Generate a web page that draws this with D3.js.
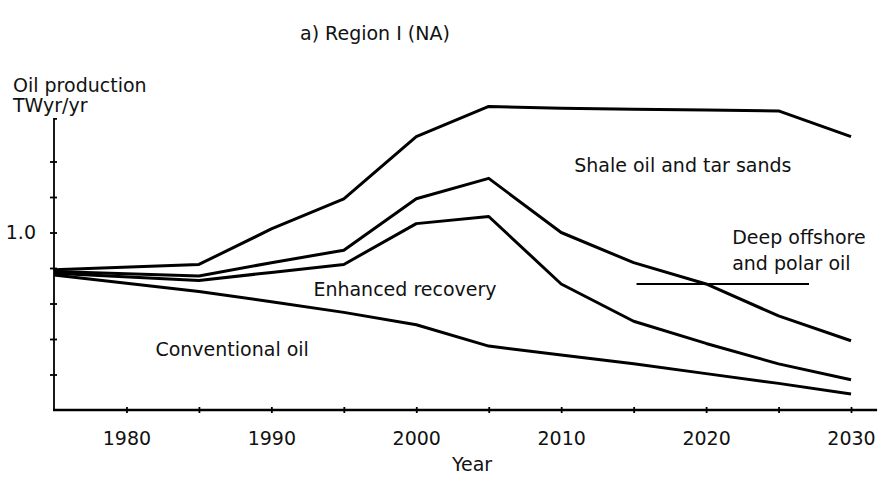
<!DOCTYPE html>
<html>
  <head>
    <meta charset="utf-8" />
    <script src="https://d3js.org/d3.v7.min.js"></script>
    <style>
      body { margin: 0; background: #fff; }
      text { font-family: "DejaVu Sans", sans-serif; fill: #111; }
      .series { fill: none; stroke: #000; stroke-width: 3px; stroke-linejoin: round; }
    </style>
  </head>
  <body>
    <svg id="chart" width="892" height="490"></svg>

    <script>
      var svg = d3.select("#chart");

      // TWyr/yr per component (stacked bottom to top)
      var years        = [1975, 1985, 1990, 1995, 2000, 2005, 2010, 2015, 2020, 2025, 2030];
      var conventional = [0.76, 0.667, 0.61, 0.55, 0.48, 0.36, 0.31, 0.26, 0.205, 0.15, 0.09];
      var enhanced     = [0.01, 0.063, 0.165, 0.27, 0.57, 0.73, 0.40, 0.24, 0.17, 0.11, 0.08];
      var deepOffshore = [0.01, 0.025, 0.055, 0.08, 0.14, 0.215, 0.29, 0.33, 0.335, 0.27, 0.22];
      var shale        = [0.01, 0.065, 0.19, 0.29, 0.35, 0.405, 0.70, 0.865, 0.98, 1.155, 1.15];

      var xTicks = [1980, 1985, 1990, 1995, 2000, 2005, 2010, 2015, 2020, 2025, 2030];
      var yTicks = [0.2, 0.4, 0.6, 0.8, 1.0, 1.2, 1.4];

      // labels: text, year, value (left baseline)
      var labels = [
        ["Shale oil and tar sands", 2010.9, 1.34],
        ["Deep offshore", 2021.8, 0.935],
        ["and polar oil", 2021.8, 0.79],
        ["Enhanced recovery", 1992.9, 0.64],
        ["Conventional oil", 1982.0, 0.305]
      ];
      var leader = [[2015.2, 0.71], [2027.1, 0.71]];

      var fs = 19;
      var x = d3.scaleLinear().domain([1975, 2032]).range([54, 880]);
      var y = d3.scaleLinear().domain([0, 1.0]).range([410, 232.5]);
      var yTop = 1.64;

      var keys = ["conventional", "enhanced", "deepOffshore", "shale"];
      var table = years.map(function(yr, i) {
        return {
          year: yr,
          conventional: conventional[i],
          enhanced: enhanced[i],
          deepOffshore: deepOffshore[i],
          shale: shale[i]
        };
      });
      var stacked = d3.stack().keys(keys)(table);

      var line = d3.line()
        .x(function(d) { return x(d.data.year); })
        .y(function(d) { return y(d[1]); });

      // y axis
      var yAxis = svg.append("g")
        .attr("transform", "translate(" + x(1975) + ",0)")
        .call(d3.axisLeft(y).tickValues(yTicks).tickSizeInner(4).tickSizeOuter(0).tickPadding(14)
          .tickFormat(function(d) { return d === 1 ? "1.0" : ""; }));
      yAxis.select(".domain").attr("stroke", "#000").attr("stroke-width", 1.8)
        .attr("d", "M0," + y(0) + "V" + y(yTop) + "H3");
      yAxis.selectAll(".tick line").attr("x1", 3).attr("stroke-width", 1.8);
      yAxis.selectAll(".tick text").attr("font-size", fs).attr("font-family", null);

      // x axis
      var xAxis = svg.append("g")
        .attr("transform", "translate(0," + y(0) + ")")
        .call(d3.axisBottom(x).tickValues(xTicks).tickSizeInner(3).tickSizeOuter(0).tickPadding(19)
          .tickFormat(function(d) { return d % 10 === 0 ? d : ""; }));
      xAxis.select(".domain").attr("stroke", "#000").attr("stroke-width", 2.6)
        .attr("d", "M" + (x(1975) - 1) + ",0H" + x(2031.8));
      xAxis.selectAll(".tick line").attr("y1", -3).attr("stroke-width", 1.8);
      xAxis.selectAll(".tick text").attr("font-size", fs).attr("font-family", null);

      // stacked boundary lines
      svg.selectAll(".series")
        .data(stacked)
        .enter().append("path")
        .attr("class", "series")
        .attr("d", line);

      // leader line for deep offshore label
      svg.append("line")
        .attr("x1", x(leader[0][0])).attr("y1", y(leader[0][1]))
        .attr("x2", x(leader[1][0])).attr("y2", y(leader[1][1]))
        .attr("stroke", "#000").attr("stroke-width", 2);

      svg.selectAll(".label")
        .data(labels)
        .enter().append("text")
        .attr("class", "label")
        .attr("font-size", fs)
        .attr("x", function(d) { return x(d[1]); })
        .attr("y", function(d) { return y(d[2]); })
        .text(function(d) { return d[0]; });

      // titles
      svg.append("text").attr("x", 300).attr("y", 40).attr("font-size", fs).text("a)  Region I (NA)");
      svg.append("text").attr("x", 13).attr("y", 92).attr("font-size", fs).text("Oil production");
      svg.append("text").attr("x", 13).attr("y", 112).attr("font-size", fs).text("TWyr/yr");
      svg.append("text").attr("x", 472).attr("y", 471).attr("text-anchor", "middle")
        .attr("font-size", fs).text("Year");
    </script>
  </body>
</html>
